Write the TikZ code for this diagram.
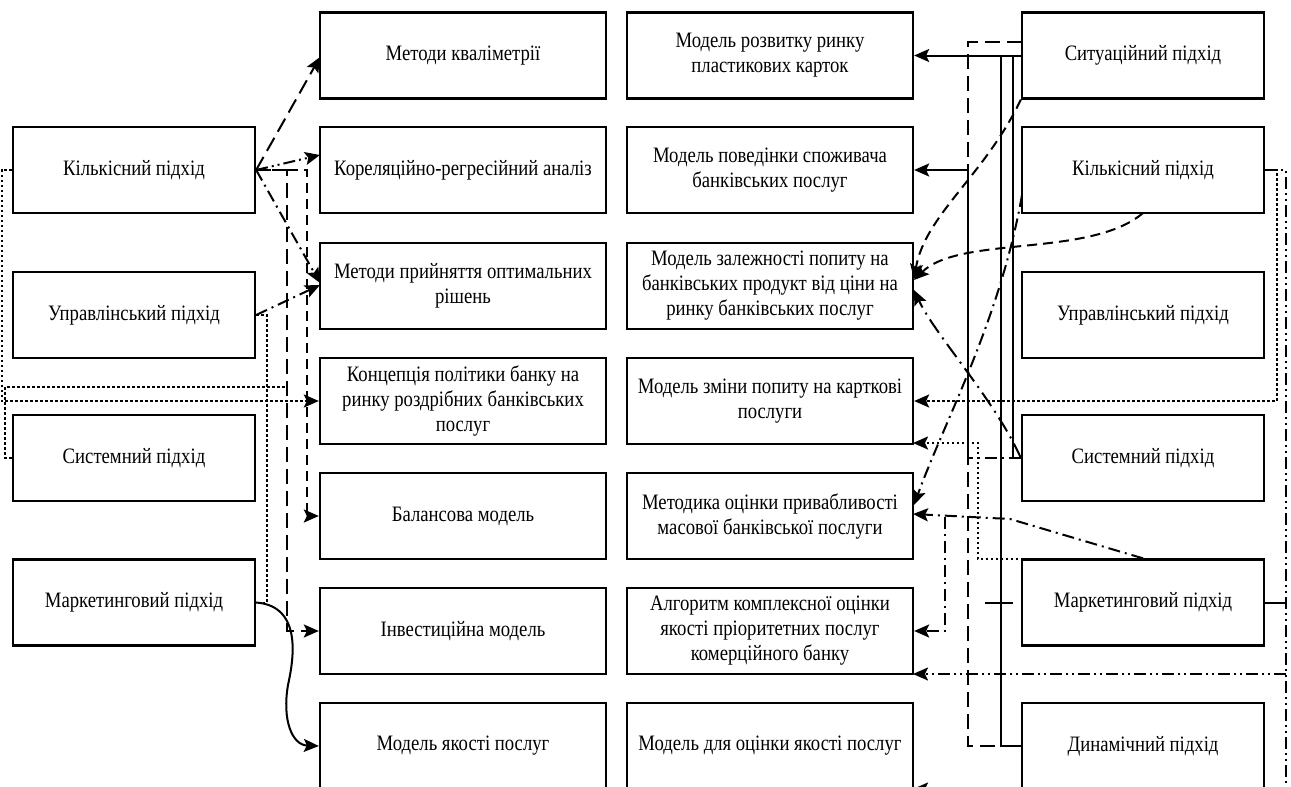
\documentclass[tikz,border=0pt]{standalone}
\usepackage{fontspec}
\setmainfont{Liberation Serif}[FakeStretch=0.85]
\usetikzlibrary{arrows.meta}
\begin{document}
\begin{tikzpicture}[x=1pt,y=-1pt,
  box/.style={draw,line width=2.3pt,inner sep=0pt,align=center,minimum height=86pt,font=\fontsize{22}{25}\selectfont},
  lbox/.style={box,minimum width=242pt},
  mbox/.style={box,minimum width=286pt},
  con/.style={line width=2pt},
  tip/.style={-{Stealth[length=15pt,width=13pt,inset=3pt]}},
  ldash/.style={con,dash pattern=on 15pt off 7pt},
  mdash/.style={con,dash pattern=on 10pt off 6pt},
  dd/.style={con,dash pattern=on 12pt off 5pt on 2pt off 5pt},
  ldd/.style={con,dash pattern=on 16pt off 6pt on 2pt off 6pt},
  ddd/.style={con,dash pattern=on 12pt off 4pt on 2pt off 4pt on 2pt off 4pt},
  dot/.style={con,dash pattern=on 2.5pt off 2.5pt},
  sol/.style={con}]
\useasboundingbox (0,0) rectangle (1291,787);
\clip (0,0) rectangle (1291,787);
% left column
\node[lbox] (lk) at (134,170) {Кількісний підхід};
\node[lbox] (lu) at (134,315) {Управлінський підхід};
\node[lbox] (ls) at (134,458) {Системний підхід};
\node[lbox] (lm) at (134,602.5) {Маркетинговий підхід};
% middle column 1
\node[mbox] (m1) at (463,55.5) {Методи кваліметрії};
\node[mbox] (m2) at (463,170) {Кореляційно-регресійний аналіз};
\node[mbox] (m3) at (463,286) {Методи прийняття оптимальних\\рішень};
\node[mbox] (m4) at (463,401) {Концепція політики банку на\\ринку роздрібних банківських\\послуг};
\node[mbox] (m5) at (463,516) {Балансова модель};
\node[mbox] (m6) at (463,631) {Інвестиційна модель};
\node[mbox] (m7) at (463,746) {Модель якості послуг};
% middle column 2
\node[mbox] (n1) at (770,55.5) {Модель розвитку ринку\\пластикових карток};
\node[mbox] (n2) at (770,170) {Модель поведінки споживача\\банківських послуг};
\node[mbox] (n3) at (770,286) {Модель залежності попиту на\\банківських продукт від ціни на\\ринку банківських послуг};
\node[mbox] (n4) at (770,401) {Модель зміни попиту на карткові\\послуги};
\node[mbox] (n5) at (770,516) {Методика оцінки привабливості\\масової банківської послуги};
\node[mbox] (n6) at (770,631) {Алгоритм комплексної оцінки\\якості пріоритетних послуг\\комерційного банку};
\node[mbox] (n7) at (770,746) {Модель для оцінки якості послуг};
% right column
\node[lbox] (r1) at (1143,55.5) {Ситуаційний підхід};
\node[lbox] (r2) at (1143,170) {Кількісний підхід};
\node[lbox] (r3) at (1143,315) {Управлінський підхід};
\node[lbox] (r4) at (1143,458) {Системний підхід};
\node[lbox] (r5) at (1143,602.5) {Маркетинговий підхід};
\node[lbox] (r6) at (1143,746) {Динамічний підхід};
% left connectors
\draw[ldash,tip] (lk.east) -- (320,57);
\draw[ddd,tip] (lk.east) -- (320,155);
\draw[dd,tip] (lk.east) -- (320,283);
\draw[dd,tip] (lu.east) -- (320,285);
\draw[mdash,tip] (lk.east) -- (307,170) -- (307,516) -- (m5.west);
\draw[ldash,tip] (lk.east) -- (287,170) -- (287,631) -- (m6.west);
\draw[dot,tip] (lk.west) -- (1.5,170) -- (1.5,401) -- (m4.west);
\draw[dot] (ls.west) -- (5,458) -- (5,387) -- (287,387);
\draw[dot] (lu.east) -- (267,315) -- (267,602.5) -- (lm.east);
\draw[sol,tip] (lm.east) .. controls (302,606) and (294,658) .. (288,685) .. controls (282,720) and (292,745) .. (m7.west);
% right connectors
\draw[sol,tip] (r1.west) -- (n1.east);
\draw[sol] (1013,55.5) -- (1013,458) -- (r4.west);
\draw[sol] (1001,55.5) -- (1001,746) -- (r6.west);
\draw[ldash] (1022,42) -- (968,42) -- (968,746) -- (1001,746);
\draw[dd] (r4.west) -- (968,458);
\draw[sol,tip] (968,458) -- (968,170) -- (n2.east);
\draw[mdash,tip] (r1.south west) .. controls (985,175) and (925,215) .. (914,279);
\draw[mdash,tip] (1143,213) .. controls (1090,258) and (960,235) .. (914,280);
\draw[ldd,tip] (r4.west) .. controls (995,400) and (935,335) .. (914,290);
\draw[dd,tip] (1022,195) .. controls (1000,320) and (945,420) .. (914,505);
\draw[dd,tip] (r5.north) -- (1010,519) -- (913,514);
\draw[dd,tip] (945,517) -- (945,631) -- (n6.east);
\draw[dot,tip] (1043,559) -- (978,559) -- (978,443) -- (913,443);
\draw[dot,tip] (r2.east) -- (1277,170) -- (1277,401) -- (n4.east);
\draw[ddd] (r2.east) -- (1286,170) -- (1286,800);
\draw[sol] (r5.east) -- (1286,602.5);
\draw[ddd,tip] (1286,674) -- (913,674);
\draw[ddd,tip] (1286,789) -- (913,789);
\draw[sol] (985,602.5) -- (1013,602.5);
\end{tikzpicture}
\end{document}
